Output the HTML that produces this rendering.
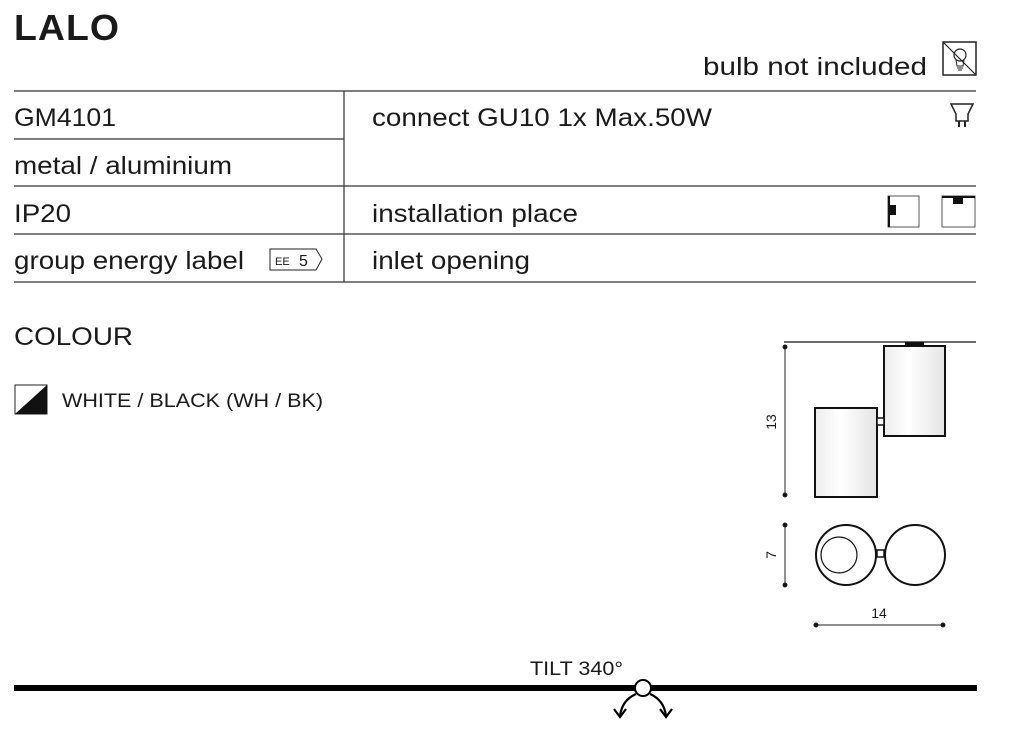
<!DOCTYPE html>
<html><head><meta charset="utf-8"><style>
body{margin:0;background:#fff;width:1024px;height:734px;overflow:hidden}
svg{display:block}
text{font-family:"Liberation Sans",sans-serif;fill:#1a1a1a}
</style></head><body>
<svg width="1024" height="734" viewBox="0 0 1024 734">
<defs><linearGradient id="g" x1="0" x2="1"><stop offset="0" stop-color="#ececec"/><stop offset="0.4" stop-color="#fff"/><stop offset="1" stop-color="#e4e4e4"/></linearGradient></defs>
<text x="14" y="40" font-size="36" font-weight="bold" letter-spacing="1" textLength="106" lengthAdjust="spacingAndGlyphs">LALO</text>
<text x="703" y="75" font-size="25" textLength="224" lengthAdjust="spacingAndGlyphs">bulb not included</text>
<rect x="943" y="42" width="33" height="33" fill="none" stroke="#222" stroke-width="1.5"/>
<line x1="943" y1="42" x2="976" y2="75" stroke="#222" stroke-width="1.2"/>
<circle cx="960" cy="55" r="6" fill="none" stroke="#222" stroke-width="1.2"/>
<path d="M956 60 L957 66 H963 L964 60 M957 68 H963 M958 70 H962" fill="none" stroke="#222" stroke-width="1"/>
<g stroke="#333" stroke-width="1.2">
<line x1="14" y1="91" x2="976" y2="91"/>
<line x1="14" y1="139" x2="344" y2="139"/>
<line x1="14" y1="186" x2="976" y2="186"/>
<line x1="14" y1="234" x2="976" y2="234"/>
<line x1="14" y1="282" x2="976" y2="282"/>
<line x1="344" y1="91" x2="344" y2="282"/>
</g>
<g font-size="25" lengthAdjust="spacingAndGlyphs">
<text x="14" y="126" textLength="102" lengthAdjust="spacingAndGlyphs">GM4101</text>
<text x="14" y="174" textLength="218" lengthAdjust="spacingAndGlyphs">metal / aluminium</text>
<text x="14" y="222" textLength="57" lengthAdjust="spacingAndGlyphs">IP20</text>
<text x="14" y="269" textLength="230" lengthAdjust="spacingAndGlyphs">group energy label</text>
<text x="372" y="126" textLength="340" lengthAdjust="spacingAndGlyphs">connect GU10 1x Max.50W</text>
<text x="372" y="222" textLength="206" lengthAdjust="spacingAndGlyphs">installation place</text>
<text x="372" y="269" textLength="158" lengthAdjust="spacingAndGlyphs">inlet opening</text>
</g>
<path d="M270 249 H316 L322 259 L316 270 H270 Z" fill="none" stroke="#222" stroke-width="1"/>
<text x="275" y="265" font-size="11">EE</text><text x="299" y="266" font-size="16">5</text>
<path d="M951 104 H973 L968 114 V121 H956 V114 Z" fill="none" stroke="#222" stroke-width="1.5"/>
<path d="M959 121 V127 M965 121 V127" stroke="#222" stroke-width="2"/>
<rect x="888" y="196" width="31" height="31" fill="none" stroke="#555" stroke-width="1"/>
<rect x="888" y="196" width="2" height="31" fill="#111"/><rect x="888" y="205" width="8" height="10" fill="#111"/>
<rect x="942" y="196" width="33" height="31" fill="none" stroke="#555" stroke-width="1"/>
<rect x="942" y="196" width="33" height="2" fill="#111"/><rect x="953" y="196" width="10" height="8" fill="#111"/>
<text x="14" y="345" font-size="25" textLength="119" lengthAdjust="spacingAndGlyphs">COLOUR</text>
<rect x="15" y="385" width="32" height="29" fill="none" stroke="#222" stroke-width="1"/>
<path d="M15 414 L47 385 V414 Z" fill="#111"/>
<text x="62" y="407" font-size="19" textLength="261" lengthAdjust="spacingAndGlyphs">WHITE / BLACK (WH / BK)</text>
<g stroke="#111" stroke-width="2">
<line x1="784" y1="342" x2="976" y2="342" stroke-width="1.2"/>
<rect x="905" y="342" width="19" height="3" fill="#111" stroke="none"/>
<rect x="884" y="346" width="61" height="90" fill="url(#g)"/>
<rect x="815" y="408" width="62" height="89" fill="url(#g)"/>
<rect x="877" y="418" width="7" height="7" fill="#fff" stroke-width="1.5"/>
<circle cx="846" cy="555" r="30" fill="#fff"/>
<circle cx="839" cy="555" r="18" fill="none" stroke-width="1.2"/>
<circle cx="915" cy="555" r="30" fill="#fff"/>
<rect x="877" y="550" width="7" height="7" fill="#fff" stroke-width="1.5"/>
</g>
<g stroke="#222" stroke-width="1" fill="#111">
<line x1="785" y1="347" x2="785" y2="495"/><circle cx="785" cy="347" r="2"/><circle cx="785" cy="495" r="2"/>
<line x1="785" y1="525" x2="785" y2="585"/><circle cx="785" cy="525" r="2"/><circle cx="785" cy="585" r="2"/>
<line x1="816" y1="625" x2="943" y2="625"/><circle cx="816" cy="625" r="2"/><circle cx="943" cy="625" r="2"/>
</g>
<text transform="translate(776,422) rotate(-90)" font-size="14" text-anchor="middle">13</text>
<text transform="translate(776,555) rotate(-90)" font-size="14" text-anchor="middle">7</text>
<text x="879" y="618" font-size="14" text-anchor="middle">14</text>
<text x="530" y="675" font-size="19" textLength="93" lengthAdjust="spacingAndGlyphs">TILT 340°</text>
<rect x="14" y="685" width="963" height="6" fill="#000"/>
<circle cx="643" cy="688" r="8" fill="#fff" stroke="#000" stroke-width="2"/>
<g fill="none" stroke="#000" stroke-width="2.2">
<path d="M636 694 Q622 700 620 716"/><path d="M614 709 L620 717 L626 709"/>
<path d="M650 694 Q664 700 666 716"/><path d="M660 709 L666 717 L672 709"/>
</g>
</svg>
</body></html>
